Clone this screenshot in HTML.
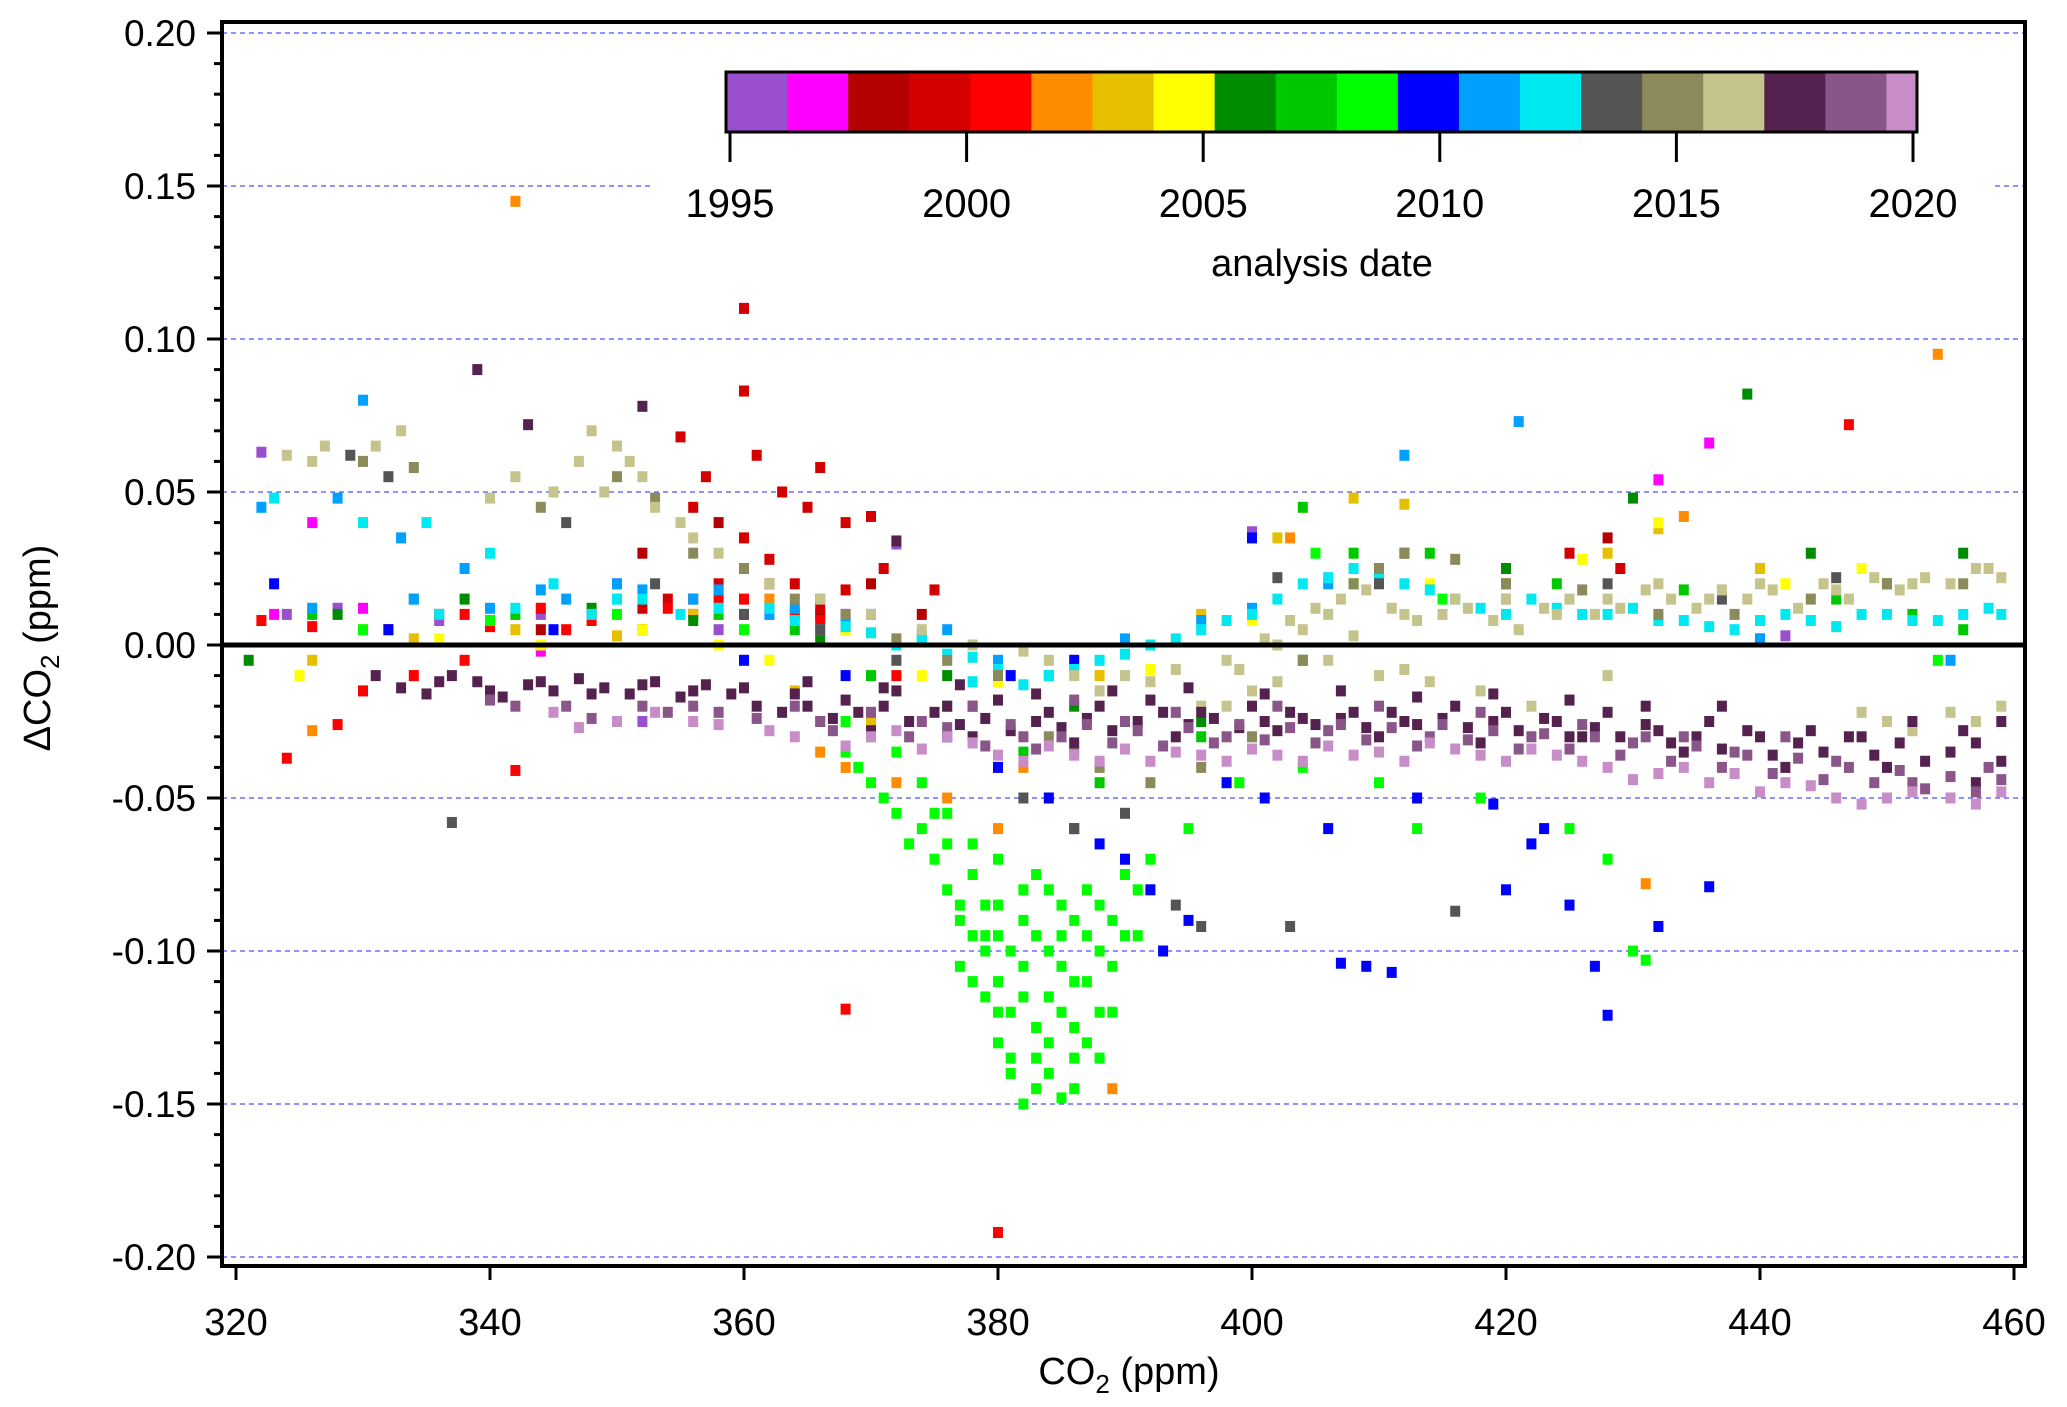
<!DOCTYPE html>
<html><head><meta charset="utf-8"><style>
html,body{margin:0;padding:0;background:#fff}
svg{display:block;font-family:"Liberation Sans",Arial,sans-serif}
</style></head><body>
<svg id="chart" width="2067" height="1407" viewBox="0 0 2067 1407" xmlns="http://www.w3.org/2000/svg">
<rect x="0" y="0" width="2067" height="1407" fill="#fff"/>
<g id="grid"></g>
<g id="pts"></g>
<g id="axes"></g>
<g id="legend"></g>
</svg>
<script>
const yearColors=["#9a4fcf","#ff00ff","#b40000","#d40000","#ff0000","#ff8c00","#e6c000","#ffff00","#008c00","#00c800","#00ff00","#0000ff","#00a0ff","#00e8f0","#555555","#8a8a5a","#c4c48c","#55224f","#8a5588","#c88cc8"];
const xTicks=[320,340,360,380,400,420,440,460];
const yTicks=[0.20,0.15,0.10,0.05,0.00,-0.05,-0.10,-0.15,-0.20];
const yTickLabels=["0.20","0.15","0.10","0.05","0.00","-0.05","-0.10","-0.15","-0.20"];
const cbYears=[1995,2000,2005,2010,2015,2020];
const g0=[[322,0.063],[324,0.01],[328,0.012],[336,0.008],[344,0.01],[352,-0.025],[358,0.005],[366,0.015],[372,0.033],[400,0.037],[442,0.003]];
const g1=[[323,0.01],[326,0.04],[330,0.012],[344,-0.002],[350,0.02],[368,0.01],[432,0.054],[436,0.066]];
const g2=[[344,0.005],[352,0.03],[358,0.04],[362,0.02],[366,0.01],[370,0.02],[374,0.01],[428,0.035]];
const g3=[[340,0.008],[348,0.01],[354,0.015],[358,0.02],[360,0.083],[361,0.062],[360,0.11],[363,0.05],[365,0.045],[366,0.058],[368,0.04],[370,0.042],[371,0.025],[375,0.018],[360,0.035],[362,0.028],[357,0.055],[355,0.068],[356,0.045],[420,0.02],[425,0.03],[429,0.025],[364,0.02],[366,0.012],[368,0.018],[352,0.012],[356,0.015]];
const g4=[[324,-0.037],[328,-0.026],[330,-0.015],[334,-0.01],[338,-0.005],[342,-0.041],[346,0.005],[352,0.005],[356,0.01],[360,0.015],[364,0.01],[368,0.005],[372,-0.01],[368,-0.119],[380,-0.192],[447,0.072],[338,0.01],[322,0.008],[326,0.006],[332,0.005],[336,0.01],[340,0.006],[344,0.012],[348,0.008],[354,0.012],[358,0.015],[362,0.012],[366,0.008]];
const g5=[[326,-0.028],[342,0.145],[362,0.015],[366,-0.035],[368,-0.04],[372,-0.045],[376,-0.05],[380,-0.06],[389,-0.145],[403,0.035],[431,-0.078],[434,0.042],[454,0.095],[382,-0.04]];
const g6=[[326,-0.005],[334,0.002],[342,0.005],[350,0.003],[356,0.01],[364,-0.015],[370,-0.025],[378,-0.02],[388,-0.01],[396,0.01],[402,0.035],[408,0.048],[412,0.046],[420,0.02],[428,0.03],[432,0.038],[440,0.025],[450,0.02]];
const g7=[[325,-0.01],[330,0.005],[336,0.002],[344,0],[352,0.005],[358,0],[362,-0.005],[368,0.005],[374,-0.01],[380,-0.012],[386,-0.01],[392,-0.008],[400,0.008],[408,0.02],[414,0.02],[420,0.025],[426,0.028],[432,0.04],[442,0.02],[448,0.025]];
const g8=[[321,-0.005],[328,0.01],[338,0.015],[348,0.012],[356,0.008],[366,0.002],[376,-0.01],[386,-0.02],[396,-0.025],[404,-0.005],[412,0.03],[420,0.025],[430,0.048],[439,0.082],[444,0.03],[450,0.02],[456,0.03]];
const g9=[[326,0.01],[334,0.015],[342,0.01],[350,0.015],[358,0.01],[364,0.005],[370,-0.01],[376,-0.02],[382,-0.035],[388,-0.045],[396,-0.03],[404,0.045],[408,0.03],[414,0.03],[424,0.02],[434,0.018],[446,0.015],[452,0.01],[456,0.005]];
const g10=[[366,-0.025],[368,-0.035],[370,-0.045],[372,-0.055],[373,-0.065],[375,-0.07],[376,-0.08],[377,-0.09],[378,-0.095],[379,-0.1],[380,-0.11],[380,-0.13],[381,-0.14],[382,-0.15],[383,-0.145],[384,-0.14],[385,-0.148],[386,-0.135],[387,-0.13],[388,-0.12],[389,-0.105],[390,-0.095],[391,-0.08],[392,-0.07],[378,-0.075],[380,-0.085],[382,-0.09],[384,-0.1],[386,-0.11],[388,-0.085],[381,-0.12],[383,-0.125],[385,-0.12],[379,-0.115],[377,-0.105],[382,-0.105],[384,-0.08],[386,-0.09],[388,-0.1],[390,-0.075],[374,-0.06],[376,-0.065],[380,-0.07],[383,-0.075],[385,-0.085],[387,-0.095],[371,-0.05],[369,-0.04],[375,-0.055],[381,-0.135],[384,-0.13],[386,-0.145],[379,-0.095],[377,-0.085],[395,-0.06],[399,-0.045],[404,-0.04],[410,-0.045],[413,-0.06],[418,-0.05],[425,-0.06],[428,-0.07],[330,0.005],[340,0.008],[350,0.01],[360,0.005],[405,0.03],[408,0.02],[415,0.015],[430,-0.1],[431,-0.103],[454,-0.005],
[374,-0.045],[376,-0.055],[378,-0.065],[380,-0.095],[382,-0.08],[382,-0.115],[383,-0.135],[384,-0.115],[385,-0.105],[386,-0.125],[387,-0.11],[388,-0.135],[389,-0.12],[380,-0.12],[379,-0.085],[378,-0.11],[381,-0.1],[383,-0.095],[385,-0.095],[387,-0.08],[389,-0.09],[391,-0.095],[372,-0.035],[370,-0.03],[368,-0.025]];
const g11=[[323,0.02],[332,0.005],[345,0.005],[360,-0.005],[368,-0.01],[376,-0.03],[380,-0.04],[384,-0.05],[386,-0.06],[388,-0.065],[390,-0.07],[392,-0.08],[393,-0.1],[395,-0.09],[398,-0.045],[401,-0.05],[406,-0.06],[407,-0.104],[409,-0.105],[411,-0.107],[420,-0.08],[422,-0.065],[425,-0.085],[427,-0.105],[428,-0.121],[432,-0.092],[436,-0.079],[440,0.002],[381,-0.01],[386,-0.005],[400,0.035],[413,-0.05],[419,-0.052],[423,-0.06]];
const g12=[[322,0.045],[328,0.048],[330,0.08],[333,0.035],[338,0.025],[344,0.018],[350,0.02],[356,0.015],[362,0.01],[368,0.008],[374,0.003],[380,-0.005],[390,0.002],[396,0.008],[400,0.012],[406,0.02],[412,0.062],[421,0.073],[440,0.002],[455,-0.005],[384,-0.01],[326,0.012],[334,0.015],[340,0.012],[346,0.015],[352,0.018],[358,0.018],[364,0.012],[370,0.01],[376,0.005]];
const g13=[[323,0.048],[330,0.04],[335,0.04],[340,0.03],[345,0.02],[350,0.015],[355,0.01],[360,0.01],[366,0.005],[372,0],[376,-0.003],[380,-0.008],[384,-0.01],[388,-0.005],[392,0],[396,0.005],[400,0.01],[404,0.02],[408,0.025],[412,0.02],[416,0.015],[420,0.01],[424,0.012],[428,0.01],[432,0.008],[436,0.006],[440,0.008],[444,0.008],[448,0.01],[452,0.008],[456,0.01],[459,0.01],[378,-0.012],[382,-0.013],
[362,0.012],[364,0.008],[368,0.006],[370,0.004],[374,0.002],[378,-0.004],[386,-0.008],[390,-0.003],[394,0.002],[398,0.008],[402,0.015],[406,0.022],[410,0.022],[414,0.018],[418,0.012],[422,0.015],[426,0.01],[430,0.012],[434,0.008],[438,0.005],[442,0.01],[446,0.006],[450,0.01],[454,0.008],[458,0.012],[336,0.01],[342,0.012],[348,0.01],[352,0.015],[358,0.012]];
const g14=[[329,0.062],[332,0.055],[337,-0.058],[346,0.04],[353,0.02],[360,0.01],[366,0.005],[372,-0.005],[378,-0.02],[382,-0.05],[386,-0.06],[390,-0.055],[394,-0.085],[396,-0.092],[416,-0.087],[403,-0.092],[402,0.022],[410,0.02],[420,0.015],[428,0.02],[437,0.015],[446,0.022]];
const g15=[[330,0.06],[334,0.058],[344,0.045],[350,0.055],[353,0.048],[356,0.03],[360,0.025],[364,0.015],[368,0.01],[372,0.002],[376,-0.005],[380,-0.01],[384,-0.03],[388,-0.04],[392,-0.045],[396,-0.04],[400,-0.03],[404,-0.005],[408,0.02],[412,0.03],[416,0.028],[420,0.02],[426,0.018],[432,0.01],[438,0.01],[444,0.015],[450,0.02],[456,0.02],[410,0.025],[386,-0.035]];
const g16=[[324,0.062],[327,0.065],[333,0.07],[340,0.048],[342,0.055],[348,0.07],[350,0.065],[352,0.055],[355,0.04],[358,0.03],[362,0.02],[366,0.015],[370,0.01],[374,0.005],[378,0],[382,-0.002],[390,-0.01],[394,-0.008],[398,-0.005],[402,0],[404,0.005],[408,0.003],[412,0.01],[416,0.015],[420,0.015],[424,0.01],[428,0.015],[432,0.02],[436,0.015],[440,0.02],[446,0.018],[452,0.02],[458,0.025],[400,-0.015],[410,-0.01],[418,-0.015],[422,-0.02],[428,-0.01],[450,-0.025],[455,-0.022],[459,-0.02],[384,-0.005],[388,-0.015],[396,-0.02],[406,0.01],[345,0.05],[347,0.06],
[386,-0.01],[392,-0.012],[399,-0.008],[401,0.002],[403,0.008],[405,0.012],[407,0.015],[409,0.018],[411,0.012],[413,0.008],[415,0.01],[417,0.012],[419,0.008],[421,0.005],[423,0.012],[425,0.015],[427,0.01],[429,0.012],[431,0.018],[433,0.015],[435,0.012],[437,0.018],[439,0.015],[441,0.018],[443,0.012],[445,0.02],[447,0.015],[449,0.022],[451,0.018],[453,0.022],[455,0.02],[457,0.025],[459,0.022],[398,-0.02],[402,-0.012],[406,-0.005],[412,-0.008],[414,-0.012],[448,-0.022],[452,-0.028],[457,-0.025],[351,0.06],[349,0.05],[353,0.045],[356,0.035],[326,0.06],[331,0.065]];
const g17=[[336,-0.012],[340,-0.015],[344,-0.012],[348,-0.016],[352,-0.013],[356,-0.015],[360,-0.014],[364,-0.016],[368,-0.018],[372,-0.015],[376,-0.02],[380,-0.018],[384,-0.022],[388,-0.02],[392,-0.018],[396,-0.022],[400,-0.02],[404,-0.024],[408,-0.022],[412,-0.025],[416,-0.02],[420,-0.022],[424,-0.025],[428,-0.022],[432,-0.028],[436,-0.025],[440,-0.03],[444,-0.028],[448,-0.03],[452,-0.025],[456,-0.028],[459,-0.025],[370,-0.028],[378,-0.03],[386,-0.032],[394,-0.03],[402,-0.028],[410,-0.03],[418,-0.032],[426,-0.03],[434,-0.035],[442,-0.04],[450,-0.04],[457,-0.045],[339,0.09],[343,0.072],[352,0.078],[372,0.034],
[361,-0.02],[363,-0.022],[365,-0.02],[367,-0.024],[369,-0.022],[371,-0.02],[373,-0.025],[375,-0.022],[377,-0.026],[379,-0.024],[381,-0.028],[383,-0.025],[385,-0.027],[387,-0.024],[389,-0.028],[391,-0.025],[393,-0.022],[395,-0.026],[397,-0.024],[399,-0.027],[401,-0.025],[403,-0.022],[405,-0.026],[407,-0.024],[409,-0.027],[411,-0.022],[413,-0.026],[415,-0.024],[417,-0.027],[419,-0.025],[421,-0.028],[423,-0.024],[425,-0.03],[427,-0.027],[429,-0.03],[431,-0.026],[433,-0.032],[435,-0.03],[437,-0.034],[439,-0.028],[441,-0.036],[443,-0.032],[445,-0.035],[447,-0.03],[449,-0.036],[451,-0.032],[453,-0.038],[455,-0.035],[457,-0.032],[459,-0.038],
[365,-0.012],[371,-0.014],[377,-0.013],[383,-0.016],[389,-0.015],[395,-0.014],[401,-0.016],[407,-0.015],[413,-0.017],[419,-0.016],[425,-0.018],[431,-0.02],[437,-0.02],
[331,-0.01],[333,-0.014],[335,-0.016],[337,-0.01],[339,-0.012],[341,-0.017],[343,-0.013],[345,-0.015],[347,-0.011],[349,-0.014],[351,-0.016],[353,-0.012],[355,-0.017],[357,-0.013],[359,-0.016]];
const g18=[[340,-0.018],[346,-0.02],[352,-0.02],[358,-0.022],[366,-0.025],[374,-0.025],[382,-0.03],[390,-0.025],[398,-0.03],[406,-0.028],[414,-0.03],[422,-0.03],[430,-0.032],[438,-0.035],[446,-0.038],[452,-0.045],[458,-0.04],[378,-0.02],[386,-0.018],[394,-0.022],[402,-0.02],[410,-0.02],[418,-0.022],[426,-0.026],[434,-0.03],[442,-0.03],
[361,-0.024],[364,-0.02],[367,-0.028],[370,-0.022],[373,-0.03],[376,-0.027],[379,-0.033],[381,-0.026],[383,-0.034],[385,-0.03],[387,-0.026],[389,-0.032],[391,-0.028],[393,-0.033],[395,-0.027],[397,-0.032],[399,-0.026],[401,-0.031],[403,-0.027],[405,-0.032],[407,-0.026],[409,-0.031],[411,-0.027],[413,-0.033],[415,-0.026],[417,-0.031],[419,-0.028],[421,-0.034],[423,-0.029],[425,-0.034],[427,-0.03],[429,-0.036],[431,-0.03],[433,-0.038],[435,-0.033],[437,-0.04],[439,-0.036],[441,-0.042],[443,-0.037],[445,-0.044],[447,-0.04],[449,-0.045],[451,-0.041],[453,-0.047],[455,-0.043],[457,-0.048],[459,-0.044],[342,-0.02],[348,-0.024],[354,-0.022],[356,-0.02]];
const g19=[[345,-0.022],[350,-0.025],[356,-0.025],[362,-0.028],[370,-0.03],[378,-0.032],[386,-0.036],[394,-0.035],[402,-0.036],[410,-0.035],[418,-0.036],[426,-0.038],[434,-0.04],[442,-0.045],[450,-0.05],[455,-0.05],[459,-0.048],[398,-0.038],[406,-0.033],[414,-0.032],[422,-0.034],[430,-0.044],[438,-0.042],[446,-0.05],
[364,-0.03],[368,-0.033],[372,-0.028],[374,-0.034],[376,-0.03],[380,-0.036],[382,-0.038],[384,-0.033],[388,-0.038],[390,-0.034],[392,-0.038],[396,-0.036],[400,-0.034],[404,-0.038],[408,-0.036],[412,-0.038],[416,-0.034],[420,-0.038],[424,-0.036],[428,-0.04],[432,-0.042],[436,-0.045],[440,-0.048],[444,-0.046],[448,-0.052],[452,-0.048],[457,-0.052],[347,-0.027],[353,-0.022],[358,-0.026]];
const groups=[g0,g1,g2,g3,g4,g5,g6,g7,g8,g9,g10,g11,g12,g13,g14,g15,g16,g17,g18,g19];

const NS="http://www.w3.org/2000/svg";
const L=222,R=2025,T=22,B=1266;
const xs=v=>236+(v-320)*12.7;
const ys=v=>645-v*3060;
function mk(tag,attrs,parent){const e=document.createElementNS(NS,tag);for(const k in attrs)e.setAttribute(k,attrs[k]);parent.appendChild(e);return e;}
const grid=document.getElementById('grid'),pts=document.getElementById('pts'),axes=document.getElementById('axes'),leg=document.getElementById('legend');

yTicks.forEach((t,i)=>{if(t===0)return;const e=mk('line',{x1:L,x2:R,y1:ys(t),y2:ys(t),stroke:'#6b6bff','stroke-width':1.6,'stroke-dasharray':'5,4'},grid);

});

groups.forEach((g,gi)=>{g.forEach(p=>{const r=mk('rect',{x:xs(p[0])-5,y:ys(p[1])-5.5,width:10,height:11,fill:yearColors[gi]},pts);

});});

const zl=mk('line',{x1:L,x2:R,y1:ys(0),y2:ys(0),stroke:'#000','stroke-width':5},axes);


const fr=mk('rect',{x:L,y:T,width:R-L,height:B-T,fill:'none',stroke:'#000','stroke-width':4},axes);



for(let k=-20;k<=20;k++){const v=k/100;const major=(k%5===0);const y=ys(v);
const tl=mk('line',{x1:L-(major?15:8),x2:L,y1:y,y2:y,stroke:'#000','stroke-width':3},axes);

}
yTicks.forEach((t,i)=>{const tx=mk('text',{x:196,y:ys(t)+13,'text-anchor':'end','font-size':37},axes);tx.textContent=yTickLabels[i];

});
xTicks.forEach(t=>{const x=xs(t);
const tl=mk('line',{x1:x,x2:x,y1:B,y2:B+14,stroke:'#000','stroke-width':3},axes);


const tx=mk('text',{x:x,y:1335,'text-anchor':'middle','font-size':38},axes);tx.textContent=String(t);

});
const xt=mk('text',{x:1129,y:1384,'text-anchor':'middle','font-size':38},axes);
xt.innerHTML='CO<tspan font-size="26" dy="9">2</tspan><tspan dy="-9"> (ppm)</tspan>';


const yt=mk('text',{x:0,y:0,'text-anchor':'middle','font-size':38,transform:'translate(50,648) rotate(-90)'},axes);
yt.innerHTML='ΔCO<tspan font-size="26" dy="9">2</tspan><tspan dy="-9"> (ppm)</tspan>';



const bg=mk('rect',{x:650,y:50,width:1345,height:240,fill:'#fff'},leg);


const cbL=726,cbR=1917,cbT=72,cbB=132;
const y2x=yr=>730+(yr-1995)*(1913-730)/25;
const segW=(cbR-cbL)/19.5;
yearColors.forEach((c,i)=>{const w=(i===19)?segW*0.5:segW;
const r=mk('rect',{x:cbL+i*segW,y:cbT,width:w+0.5,height:cbB-cbT,fill:c},leg);

});
const cbf=mk('rect',{x:cbL,y:cbT,width:cbR-cbL,height:cbB-cbT,fill:'none',stroke:'#000','stroke-width':3},leg);


cbYears.forEach(yr=>{const x=y2x(yr);
const tl=mk('line',{x1:x,x2:x,y1:cbB,y2:cbB+30,stroke:'#000','stroke-width':3},leg);


const tx=mk('text',{x:x,y:217,'text-anchor':'middle','font-size':40},leg);tx.textContent=String(yr);

});
const lt=mk('text',{x:1322,y:276,'text-anchor':'middle','font-size':38},leg);lt.textContent='analysis date';


</script>
</body></html>
